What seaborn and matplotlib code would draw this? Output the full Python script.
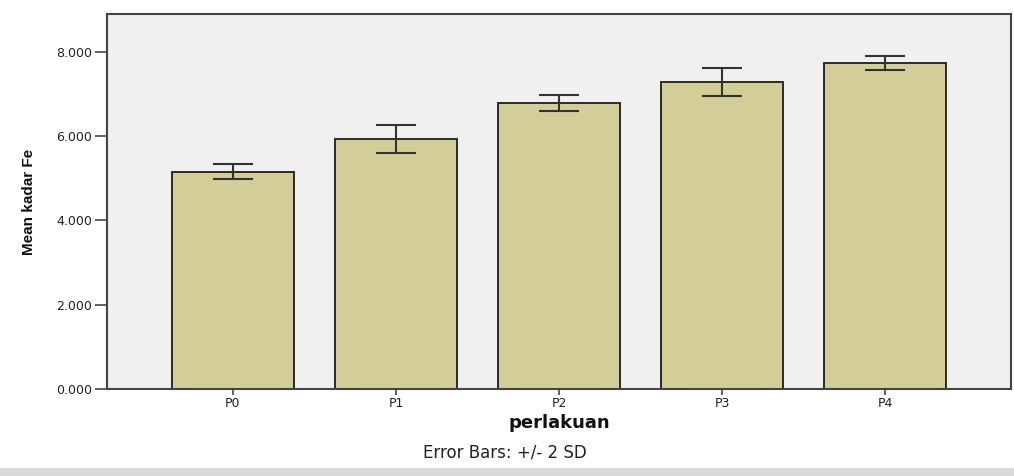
import matplotlib
matplotlib.use("Agg")
import matplotlib.pyplot as plt
from matplotlib.patches import Rectangle
from matplotlib.ticker import FuncFormatter
import seaborn as sns
import pandas as pd

# Mean Fe content per treatment, with error bar half-lengths (2 SD)
perlakuan = ["P0", "P1", "P2", "P3", "P4"]
mean_kadar_fe = [5.16, 5.93, 6.79, 7.28, 7.74]
two_sd = [0.18, 0.34, 0.19, 0.33, 0.16]
y_ticks = [0, 2, 4, 6, 8]

df = pd.DataFrame({"perlakuan": perlakuan, "mean": mean_kadar_fe, "err": two_sd})

sns.set_theme(style="white")
plt.rcParams["font.family"] = ["DejaVu Sans"]

fig = plt.figure(figsize=(10.14, 4.76), dpi=100)
fig.patch.set_facecolor("white")
ax = fig.add_axes([0.1055, 0.1828, 0.8915, 0.7878])
ax.set_facecolor("#f0f0f0")

sns.barplot(data=df, x="perlakuan", y="mean", order=perlakuan, color="#d3ce97",
            saturation=1, width=0.75, edgecolor="#2a2a2a", linewidth=1.4,
            errorbar=None, ax=ax)
for p in ax.patches:
    p.set_facecolor("#d3ce97")

ax.errorbar(x=range(len(perlakuan)), y=df["mean"], yerr=df["err"], fmt="none",
            ecolor="#333333", elinewidth=1.5, capsize=14.5, capthick=1.5, zorder=5)

ax.set_xlim(-0.773, 4.773)
ax.set_ylim(0, 8.9)
ax.set_yticks(y_ticks)
ax.yaxis.set_major_formatter(FuncFormatter(lambda v, _: f"{v:.3f}"))

for s in ax.spines.values():
    s.set_visible(True)
    s.set_color("#444444")
    s.set_linewidth(1.5)

ax.tick_params(axis="y", left=True, length=8.5, width=1.2, color="#444444",
               labelsize=9, labelcolor="#222222", pad=2)
ax.tick_params(axis="x", bottom=True, length=4, width=1.2, color="#444444",
               labelsize=9, labelcolor="#222222", pad=2)

ax.set_xlabel("perlakuan", fontsize=13, fontweight="bold", labelpad=3,
              color="#111111")
ax.set_ylabel("Mean kadar Fe", fontsize=11, fontweight="bold",
              family=["Liberation Sans", "DejaVu Sans"], labelpad=15,
              color="#111111")

fig.text(0.498, 0.050, "Error Bars: +/- 2 SD", ha="center", va="center",
         fontsize=12, color="#222222")

# light band along the bottom edge of the page
fig.patches.append(Rectangle((0, 0), 1, 8 / 476, transform=fig.transFigure,
                             facecolor="#d9d9d9", edgecolor="none", zorder=0))

fig.savefig("out.png", dpi=100)
